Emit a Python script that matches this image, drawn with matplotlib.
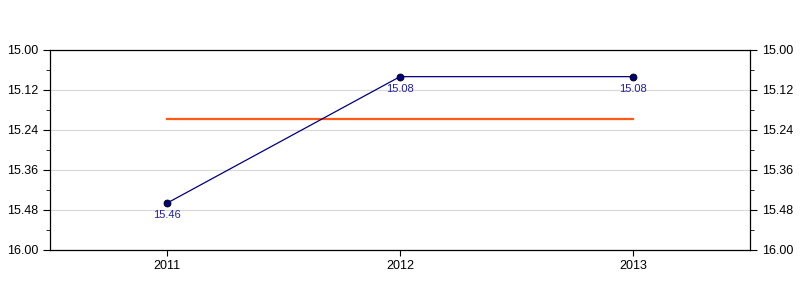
import numpy as np
import matplotlib
matplotlib.use("Agg")
import matplotlib.pyplot as plt
from matplotlib.ticker import MultipleLocator

plt.rcParams["font.family"] = ["Liberation Sans", "DejaVu Sans"]

years = [2011, 2012, 2013]
values = [15.46, 15.08, 15.08]
yticks = [15.00, 15.12, 15.24, 15.36, 15.48, 15.60]
ytick_labels = ["15.00", "15.12", "15.24", "15.36", "15.48", "16.00"]

mean_val = np.mean(values)

fig = plt.figure(figsize=(8, 3), dpi=100)
ax = fig.add_axes([0.0625, 0.1667, 0.875, 0.6667])

# ─── series + average ─────────────────────────────────────────────────────────
ax.plot(years, values, color="#000080", lw=0.9, marker="o", ms=5,
        mfc="#000080", mec="#000000", mew=0.6, zorder=3)
ax.plot([years[0], years[-1]], [mean_val, mean_val], color="#FF5A14", lw=1.6, zorder=2)

for x, v in zip(years, values):
    ax.annotate(f"{v:.2f}", (x, v), xytext=(0, -5), textcoords="offset points",
                ha="center", va="top", fontsize=8, color="#2020A0")

# ─── axes ────────────────────────────────────────────────────────────────────
ax.set_xlim(2010.5, 2013.5)
ax.set_xticks(years)
ax.set_xticklabels([str(y) for y in years])
ax.set_ylim(15.60, 15.00)
ax.set_yticks(yticks)
ax.set_yticklabels(ytick_labels)
ax.yaxis.set_minor_locator(MultipleLocator(0.06))
ax.grid(axis="y", color="#d9d9d9", lw=0.8)
ax.set_axisbelow(True)

ax.tick_params(axis="y", which="both", left=True, right=True,
               labelleft=True, labelright=True, labelsize=9, direction="out")
ax.tick_params(axis="y", which="major", length=5)
ax.tick_params(axis="y", which="minor", length=3)
ax.tick_params(axis="x", labelsize=9, length=4, direction="out")
for s in ax.spines.values():
    s.set_linewidth(0.9)

fig.savefig("out.png", dpi=100)
